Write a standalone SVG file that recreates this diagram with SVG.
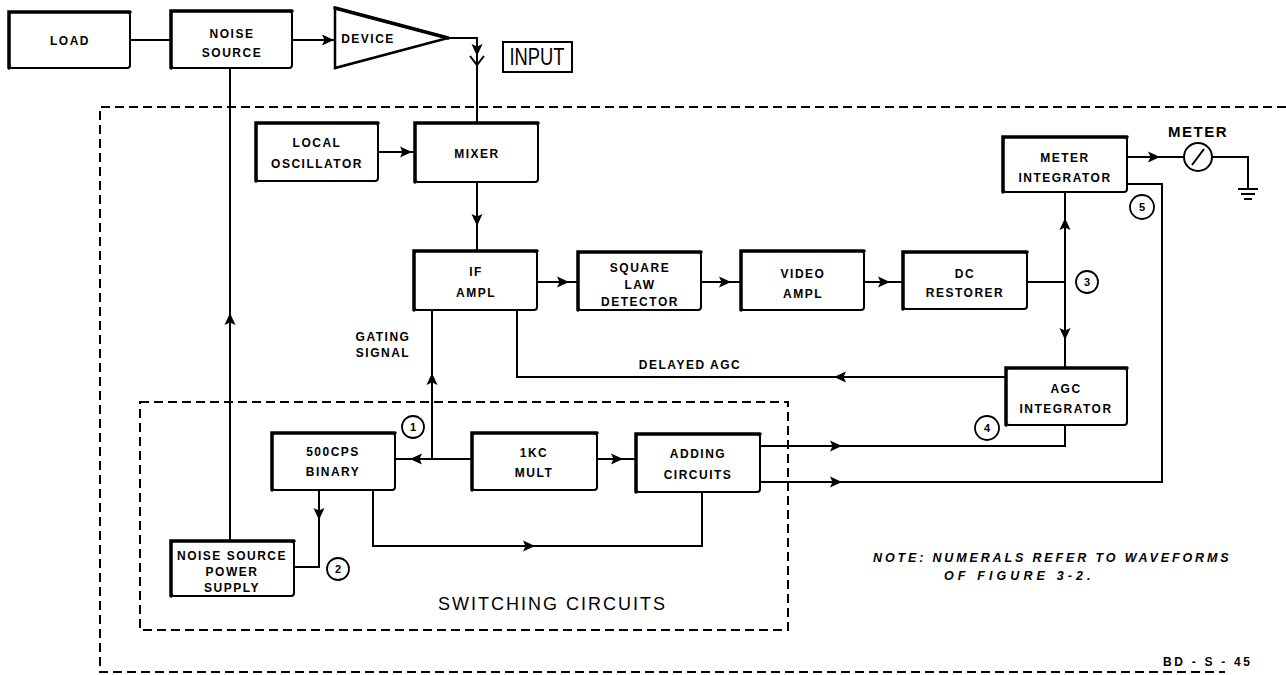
<svg xmlns="http://www.w3.org/2000/svg" xmlns:xlink="http://www.w3.org/1999/xlink" width="1286" height="675" viewBox="0 0 1286 675">
<defs>
<style>
.bx{fill:#fff;stroke:#000;stroke-width:2}
.hl{fill:none;stroke:#000;stroke-width:3.5;stroke-linecap:round}
.ln{fill:none;stroke:#000;stroke-width:2}
.dash{fill:none;stroke:#000;stroke-width:2;stroke-dasharray:9 5}
.lbl{font-family:"Liberation Sans",Arial,sans-serif;font-weight:bold;font-size:12px;letter-spacing:1.5px;text-anchor:middle;fill:#000}
.num{font-family:"Liberation Sans",Arial,sans-serif;font-weight:bold;font-size:11px;text-anchor:middle;fill:#000}
.cir{fill:#fff;stroke:#000;stroke-width:1.8}
.note{font-family:"Liberation Sans",Arial,sans-serif;font-weight:bold;font-style:italic;font-size:12.5px;fill:#000}
</style>
<path id="ah" d="M0,0 L-12,-5.5 L-9.5,0 L-12,5.5 Z" fill="#000"/>
</defs>
<rect width="1286" height="675" fill="#fff"/>

<!-- boundaries -->
<g id="outer-boundary">
<path class="dash" d="M1286,107 H100 V672 H1225"/>
</g>
<g id="switching-boundary">
<rect class="dash" x="140" y="402" width="648" height="228"/>
<text x="553" y="610" font-family="Liberation Sans, Arial, sans-serif" font-size="18" text-anchor="middle" textLength="230" letter-spacing="3">SWITCHING CIRCUITS</text>
</g>

<!-- connectors -->
<g id="connectors">
<path class="ln" d="M130,40 H171"/>
<path class="ln" d="M292,40 H335"/>
<use xlink:href="#ah" href="#ah" transform="translate(334,40)"/>
<path class="ln" d="M447,38 H477 V123"/>
<use xlink:href="#ah" href="#ah" transform="translate(477,56) rotate(90)"/>
<path class="ln" d="M470,56 L477,65 L484,56"/>
<path class="ln" d="M230,68 V541"/>
<use xlink:href="#ah" href="#ah" transform="translate(230,313) rotate(-90)"/>
<path class="ln" d="M378,152 H415"/>
<use xlink:href="#ah" href="#ah" transform="translate(412,152)"/>
<path class="ln" d="M477,182 V251"/>
<use xlink:href="#ah" href="#ah" transform="translate(477,226) rotate(90)"/>
<path class="ln" d="M537,282 H578"/>
<use xlink:href="#ah" href="#ah" transform="translate(569,282)"/>
<path class="ln" d="M701,282 H741"/>
<use xlink:href="#ah" href="#ah" transform="translate(731,282)"/>
<path class="ln" d="M864,282 H903"/>
<use xlink:href="#ah" href="#ah" transform="translate(890,282)"/>
<path class="ln" d="M1027,282 H1065"/>
<path class="ln" d="M1065,192 V368"/>
<use xlink:href="#ah" href="#ah" transform="translate(1065,218) rotate(-90)"/>
<use xlink:href="#ah" href="#ah" transform="translate(1065,340) rotate(90)"/>
<path class="ln" d="M1127,157 H1184"/>
<use xlink:href="#ah" href="#ah" transform="translate(1160,157)"/>
<path class="ln" d="M1212,157 H1248 V189"/>
<path class="ln" d="M1238,189 H1258 M1241,194 H1255 M1244,199 H1252"/>
<path class="ln" d="M1006,377 H517 V310"/>
<use xlink:href="#ah" href="#ah" transform="translate(834,377) rotate(180)"/>
<path class="ln" d="M432,310 V459"/>
<use xlink:href="#ah" href="#ah" transform="translate(432,373) rotate(-90)"/>
<path class="ln" d="M472,459 H395"/>
<use xlink:href="#ah" href="#ah" transform="translate(410,459) rotate(180)"/>
<path class="ln" d="M597,459 H636"/>
<use xlink:href="#ah" href="#ah" transform="translate(623,459)"/>
<path class="ln" d="M373,490 V546 H702 V492"/>
<use xlink:href="#ah" href="#ah" transform="translate(535,546)"/>
<path class="ln" d="M319,490 V567 H294"/>
<use xlink:href="#ah" href="#ah" transform="translate(319,520) rotate(90)"/>
<path class="ln" d="M760,446 H1065 V425"/>
<use xlink:href="#ah" href="#ah" transform="translate(842,446)"/>
<path class="ln" d="M760,482 H1162 V184 H1127"/>
<use xlink:href="#ah" href="#ah" transform="translate(842,482)"/>
<text class="lbl" x="383" y="341">GATING</text>
<text class="lbl" x="383" y="357">SIGNAL</text>
<text class="lbl" x="690" y="369">DELAYED AGC</text>
<circle class="cir" cx="413" cy="427" r="11"/><text class="num" x="413" y="431">1</text>
<circle class="cir" cx="338" cy="569" r="11"/><text class="num" x="338" y="573">2</text>
<circle class="cir" cx="1087" cy="282" r="11"/><text class="num" x="1087" y="286">3</text>
<circle class="cir" cx="987" cy="428" r="12"/><text class="num" x="987" y="432">4</text>
<circle class="cir" cx="1142" cy="207" r="12"/><text class="num" x="1142" y="211">5</text>
</g>

<!-- nodes -->
<g id="load"><rect class="bx" x="9" y="12" width="121" height="56" rx="3"/><path class="hl" d="M9,68 V12 H130"/><text class="lbl" x="70" y="45">LOAD</text></g>
<g id="noise-source"><rect class="bx" x="171" y="11" width="121" height="57" rx="3"/><path class="hl" d="M171,68 V11 H292"/><text class="lbl" x="232" y="38">NOISE</text><text class="lbl" x="232" y="57">SOURCE</text></g>
<g id="device"><path d="M335,8 L448,38 L335,68 Z" fill="#fff" stroke="#000" stroke-width="2.5" stroke-linejoin="miter"/><path class="hl" d="M335,8 L448,38"/><text class="lbl" x="368" y="43">DEVICE</text></g>
<g id="input"><rect x="503" y="42" width="69" height="30" fill="#fff" stroke="#000" stroke-width="2"/><text x="537" y="65" font-family="Liberation Sans, Arial, sans-serif" font-size="24" text-anchor="middle" textLength="55" lengthAdjust="spacingAndGlyphs">INPUT</text></g>
<g id="local-oscillator"><rect class="bx" x="256" y="123" width="122" height="58" rx="3"/><path class="hl" d="M256,181 V123 H378"/><text class="lbl" x="317" y="147">LOCAL</text><text class="lbl" x="317" y="168">OSCILLATOR</text></g>
<g id="mixer"><rect class="bx" x="415" y="123" width="123" height="59" rx="3"/><path class="hl" d="M415,182 V123 H538"/><text class="lbl" x="477" y="158">MIXER</text></g>
<g id="if-ampl"><rect class="bx" x="414" y="251" width="123" height="59" rx="3"/><path class="hl" d="M414,310 V251 H537"/><text class="lbl" x="476" y="276">IF</text><text class="lbl" x="476" y="297">AMPL</text></g>
<g id="square-law-detector"><rect class="bx" x="578" y="252" width="123" height="58" rx="3"/><path class="hl" d="M578,310 V252 H701"/><text class="lbl" x="640" y="272">SQUARE</text><text class="lbl" x="640" y="289">LAW</text><text class="lbl" x="640" y="306">DETECTOR</text></g>
<g id="video-ampl"><rect class="bx" x="741" y="251" width="123" height="59" rx="3"/><path class="hl" d="M741,310 V251 H864"/><text class="lbl" x="803" y="278">VIDEO</text><text class="lbl" x="803" y="298">AMPL</text></g>
<g id="dc-restorer"><rect class="bx" x="903" y="252" width="124" height="57" rx="3"/><path class="hl" d="M903,309 V252 H1027"/><text class="lbl" x="965" y="278">DC</text><text class="lbl" x="965" y="297">RESTORER</text></g>
<g id="meter-integrator"><rect class="bx" x="1003" y="137" width="124" height="55" rx="3"/><path class="hl" d="M1003,192 V137 H1127"/><text class="lbl" x="1065" y="162">METER</text><text class="lbl" x="1065" y="182">INTEGRATOR</text></g>
<g id="meter"><circle cx="1198" cy="157" r="14" fill="#fff" stroke="#000" stroke-width="2"/><path class="ln" d="M1192,165 L1204,149"/><text x="1198" y="137" font-family="Liberation Sans, Arial, sans-serif" font-weight="bold" font-size="15" letter-spacing="1.5" text-anchor="middle">METER</text></g>
<g id="agc-integrator"><rect class="bx" x="1006" y="368" width="121" height="57" rx="3"/><path class="hl" d="M1006,425 V368 H1127"/><text class="lbl" x="1066" y="393">AGC</text><text class="lbl" x="1066" y="413">INTEGRATOR</text></g>
<g id="binary-500cps"><rect class="bx" x="272" y="433" width="123" height="57" rx="3"/><path class="hl" d="M272,490 V433 H395"/><text class="lbl" x="333" y="456">500CPS</text><text class="lbl" x="333" y="476">BINARY</text></g>
<g id="mult-1kc"><rect class="bx" x="472" y="433" width="125" height="57" rx="3"/><path class="hl" d="M472,490 V433 H597"/><text class="lbl" x="534" y="457">1KC</text><text class="lbl" x="534" y="477">MULT</text></g>
<g id="adding-circuits"><rect class="bx" x="636" y="434" width="124" height="58" rx="3"/><path class="hl" d="M636,492 V434 H760"/><text class="lbl" x="698" y="458">ADDING</text><text class="lbl" x="698" y="479">CIRCUITS</text></g>
<g id="noise-source-power-supply"><rect class="bx" x="171" y="541" width="123" height="55" rx="3"/><path class="hl" d="M171,596 V541 H294"/><text class="lbl" x="232" y="560" letter-spacing="0.8">NOISE SOURCE</text><text class="lbl" x="232" y="576">POWER</text><text class="lbl" x="232" y="592">SUPPLY</text></g>

<g id="notes">
<text class="note" x="873" y="562" textLength="357" letter-spacing="1.5">NOTE:  NUMERALS  REFER  TO  WAVEFORMS</text>
<text class="note" x="944" y="580" textLength="148" letter-spacing="1.5">OF  FIGURE  3-2.</text>
<text x="1163" y="666" font-family="Liberation Sans, Arial, sans-serif" font-weight="bold" font-size="12" textLength="87">BD - S - 45</text>
</g>
</svg>
